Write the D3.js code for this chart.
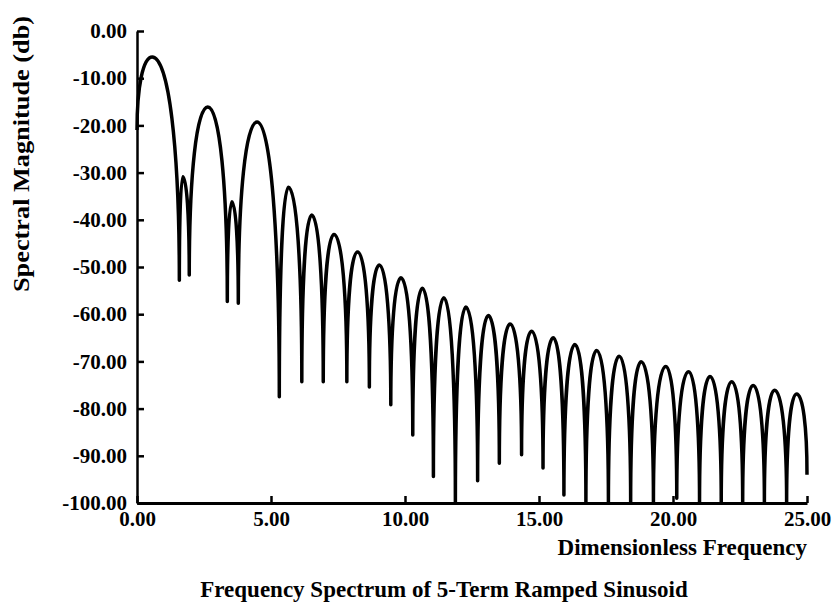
<!DOCTYPE html>
<html>
<head>
<meta charset="utf-8">
<script src="https://cdn.jsdelivr.net/npm/d3@7"></script>
<style>
    body { margin: 0; background: #fff; }
    svg text { font-family: "Liberation Serif", "Times New Roman", serif; font-weight: bold; fill: #000; }
</style>
</head>
<body>
<svg id="chart" width="836" height="615"></svg>
<script>
// lobe maxima of the spectrum (frequency, db)
const peakFreq = [0.57, 1.71, 2.64, 3.54, 4.48, 5.65, 6.52, 7.35, 8.23, 9.04,
    9.85, 10.65, 11.45, 12.27, 13.11, 13.92, 14.72, 15.53, 16.34, 17.15,
    17.99, 18.81, 19.73, 20.58, 21.38, 22.19, 22.99, 23.79, 24.61];
const peakDb = [-5.5, -30.9, -16.1, -36.2, -19.3, -33.1, -39.0, -43.1, -46.8, -49.6,
    -52.3, -54.5, -56.5, -58.5, -60.3, -62.1, -63.6, -65.0, -66.4, -67.7,
    -68.9, -70.1, -71.1, -72.2, -73.2, -74.3, -75.1, -76.1, -76.9];

// nulls between the lobes; first and last entries are the two ends of the trace
const nullFreq = [0, 1.58, 1.95, 3.37, 3.78, 5.31, 6.15, 6.95, 7.83, 8.67,
    9.47, 10.29, 11.06, 11.88, 12.71, 13.52, 14.35, 15.15, 15.93, 16.75,
    17.59, 18.42, 19.27, 20.14, 20.99, 21.80, 22.60, 23.41, 24.24, 25.0];
const nullDb = [-21, -52.8, -51.7, -57.3, -57.7, -77.5, -74.3, -74.3, -74.3, -75.4,
    -79.2, -85.6, -94.4, -100, -95.3, -91.6, -89.8, -92.6, -98.3, -100,
    -100, -100, -100, -99, -100, -100, -100, -100, -100, -94];

const xTicks = [0, 5, 10, 15, 20, 25];
const yTicks = [0, -10, -20, -30, -40, -50, -60, -70, -80, -90, -100];

const width = 836, height = 615;
const margin = {top: 31, right: 29, bottom: 112, left: 137};
const innerWidth = width - margin.left - margin.right;
const innerHeight = height - margin.top - margin.bottom;

const svg = d3.select("#chart");
const g = svg.append("g").attr("transform", `translate(${margin.left},${margin.top})`);

const x = d3.scaleLinear().domain([0, 25]).range([0, innerWidth]);
const y = d3.scaleLinear().domain([-100, 0]).range([innerHeight, 0]);

// axes, ticks point inward
const yAxis = g.append("g")
    .call(d3.axisLeft(y).tickValues(yTicks).tickSizeInner(-7).tickSizeOuter(0)
        .tickPadding(10).tickFormat(d => d.toFixed(2)));

const xAxis = g.append("g")
    .attr("transform", `translate(0,${innerHeight})`)
    .call(d3.axisBottom(x).tickValues(xTicks).tickSizeInner(-7).tickSizeOuter(0)
        .tickPadding(8).tickFormat(d => d.toFixed(2)));

[yAxis, xAxis].forEach(function(ax) {
    ax.selectAll("path, line").attr("stroke", "#000").attr("stroke-width", 2.5);
    ax.selectAll("text").style("font-size", "21px");
});
xAxis.select(".domain").attr("stroke-width", 3);

// each lobe: rise from a null with a vertical tangent, flat top at the peak, fall to next null
function spectrumPath() {
    var p = d3.path();
    var k = 0.6;
    p.moveTo(x(nullFreq[0]), y(nullDb[0]));
    peakFreq.forEach(function(f, i) {
        var x0 = x(nullFreq[i]), y0 = y(nullDb[i]);
        var xp = x(f), yp = y(peakDb[i]);
        var x1 = x(nullFreq[i + 1]), y1 = y(nullDb[i + 1]);
        p.bezierCurveTo(x0, y0 + k * (yp - y0), xp - k * (xp - x0), yp, xp, yp);
        p.bezierCurveTo(xp + k * (x1 - xp), yp, x1, y1 + k * (yp - y1), x1, y1);
    });
    return p.toString();
}

g.append("path")
    .attr("d", spectrumPath())
    .attr("fill", "none")
    .attr("stroke", "#000")
    .attr("stroke-width", 3.5)
    .attr("stroke-linejoin", "round");

// labels
svg.append("text")
    .attr("x", margin.left + innerWidth)
    .attr("y", 555)
    .attr("text-anchor", "end")
    .style("font-size", "23px")
    .text("Dimensionless Frequency");

svg.append("text")
    .attr("transform", "translate(29,154) rotate(-90)")
    .attr("text-anchor", "middle")
    .attr("textLength", 276)
    .attr("lengthAdjust", "spacingAndGlyphs")
    .style("font-size", "24px")
    .text("Spectral Magnitude (db)");

svg.append("text")
    .attr("x", 444)
    .attr("y", 597)
    .attr("text-anchor", "middle")
    .style("font-size", "23px")
    .text("Frequency Spectrum of 5-Term Ramped Sinusoid");
</script>
</body>
</html>
